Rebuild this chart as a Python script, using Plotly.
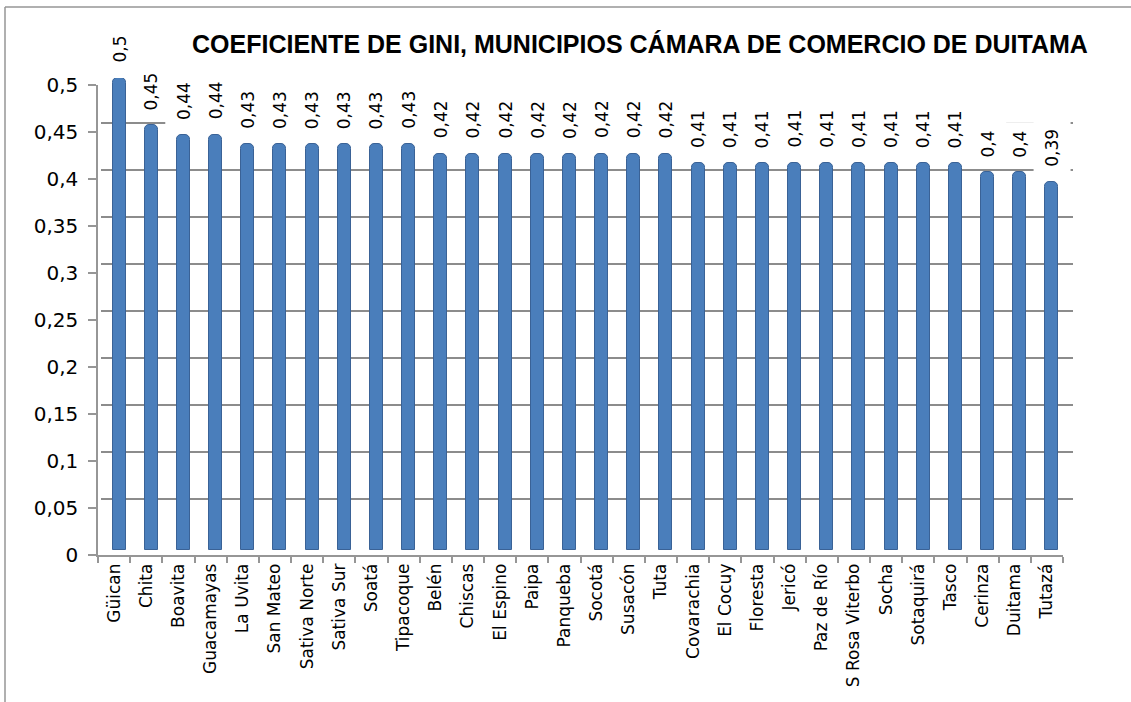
import plotly.graph_objects as go

W, H = 1131, 702

municipios = ["Güican", "Chita", "Boavita", "Guacamayas", "La Uvita", "San Mateo",
              "Sativa Norte", "Sativa Sur", "Soatá", "Tipacoque", "Belén", "Chiscas",
              "El Espino", "Paipa", "Panqueba", "Socotá", "Susacón", "Tuta",
              "Covarachia", "El Cocuy", "Floresta", "Jericó", "Paz de Río",
              "S Rosa Viterbo", "Socha", "Sotaquirá", "Tasco", "Cerinza", "Duitama", "Tutazá"]
gini = [0.5, 0.45, 0.44, 0.44, 0.43, 0.43, 0.43, 0.43, 0.43, 0.43,
        0.42, 0.42, 0.42, 0.42, 0.42, 0.42, 0.42, 0.42,
        0.41, 0.41, 0.41, 0.41, 0.41, 0.41, 0.41, 0.41, 0.41,
        0.4, 0.4, 0.39]
tick_values = [0, 0.05, 0.1, 0.15, 0.2, 0.25, 0.3, 0.35, 0.4, 0.45, 0.5]
tick_labels = ["0", "0,05", "0,1", "0,15", "0,2", "0,25", "0,3", "0,35", "0,4", "0,45", "0,5"]
title_text = "COEFICIENTE DE GINI, MUNICIPIOS CÁMARA DE COMERCIO DE DUITAMA"

GRID = "rgb(140,140,140)"
AXIS = "rgb(150,150,150)"
BAR = "rgb(74,126,187)"
BAR_EDGE = "rgb(58,98,150)"
FONT = "DejaVu Sans"


def px_x(a, b):
    return [a / W, b / W]


def px_y(bottom, top):
    return [1 - bottom / H, 1 - top / H]


fig = go.Figure()

# back wall (gridlines)
fig.add_trace(go.Scatter(x=municipios, y=gini, mode="markers", marker=dict(opacity=0),
                         hoverinfo="skip", showlegend=False, xaxis="x", yaxis="y"))
# bars
fig.add_trace(go.Bar(x=municipios, y=gini, width=0.4,
                     marker=dict(color=BAR, line=dict(color=BAR_EDGE, width=1), cornerradius=5),
                     showlegend=False, xaxis="x2", yaxis="y2", hoverinfo="x+y"))
# front axes
fig.add_trace(go.Scatter(x=municipios, y=gini, mode="markers", marker=dict(opacity=0),
                         hoverinfo="skip", showlegend=False, xaxis="x3", yaxis="y3"))

annotations = []
for name, v in zip(municipios, gini):
    annotations.append(dict(
        x=name, y=v, xref="x2", yref="y2", text=f"{v:g}".replace(".", ","),
        showarrow=False, textangle=-90, yanchor="bottom", xanchor="center",
        yshift=6, bgcolor="white", borderpad=8,
        font=dict(family=FONT, size=17, color="black")))

annotations.append(dict(
    x=639.5 / W, y=1 - 44 / H, xref="paper", yref="paper", text=title_text,
    showarrow=False, xanchor="center", yanchor="middle",
    font=dict(family="Liberation Sans", size=25, color="black", weight="bold")))

common = dict(automargin=False, zeroline=False)

fig.update_layout(
    template="none",
    width=W, height=H, autosize=False,
    margin=dict(l=0, r=0, t=0, b=0, pad=0),
    paper_bgcolor="white", plot_bgcolor="rgba(0,0,0,0)",
    showlegend=False, bargap=0,
    font=dict(family=FONT, color="black"),
    xaxis=dict(domain=px_x(101, 1073), anchor="y", type="category",
               categoryorder="array", categoryarray=municipios, range=[-0.5, 29.5],
               showticklabels=False, showgrid=False, showline=False, ticks="", **common),
    yaxis=dict(domain=px_y(546, 76), anchor="x", range=[0, 0.5], tickvals=tick_values,
               showticklabels=False, showgrid=True, gridcolor=GRID, gridwidth=1.5,
               showline=False, ticks="", **common),
    xaxis2=dict(domain=px_x(103, 1068), anchor="y2", type="category",
                categoryorder="array", categoryarray=municipios, range=[-0.5, 29.5],
                showticklabels=False, showgrid=False, showline=False, ticks="", **common),
    yaxis2=dict(domain=px_y(550, 78), anchor="x2", range=[0, 0.5],
                showticklabels=False, showgrid=False, showline=False, ticks="", **common),
    xaxis3=dict(domain=px_x(98, 1063), anchor="y3", type="category",
                categoryorder="array", categoryarray=municipios, range=[-0.5, 29.5],
                tickangle=-90, ticks="outside", tickson="boundaries", ticklen=6,
                tickcolor=AXIS, tickwidth=1.5, showline=True, linecolor=AXIS, linewidth=1.5,
                showgrid=False,
                tickfont=dict(family=FONT, size=17, color="black"), **common),
    yaxis3=dict(domain=px_y(555, 85), anchor="x3", range=[0, 0.5],
                tickvals=tick_values, ticktext=tick_labels,
                ticks="outside", ticklen=8, tickcolor=AXIS, tickwidth=1.5,
                showline=True, linecolor=AXIS, linewidth=1.5,
                showgrid=False, ticklabelstandoff=6,
                tickfont=dict(family=FONT, size=20, color="black"), **common),
    annotations=annotations,
    shapes=[
        dict(type="line", xref="paper", yref="paper", x0=5 / W, x1=1, y0=1 - 7 / H, y1=1 - 7 / H,
             line=dict(color="rgb(150,150,150)", width=1.5)),
        dict(type="line", xref="paper", yref="paper", x0=5 / W, x1=5 / W, y0=0, y1=1 - 7 / H,
             line=dict(color="rgb(150,150,150)", width=1.5)),
    ],
)

fig.write_html("out.html", config={"displayModeBar": False},
               post_script="document.body.style.margin='0';document.body.style.overflow='hidden';")
